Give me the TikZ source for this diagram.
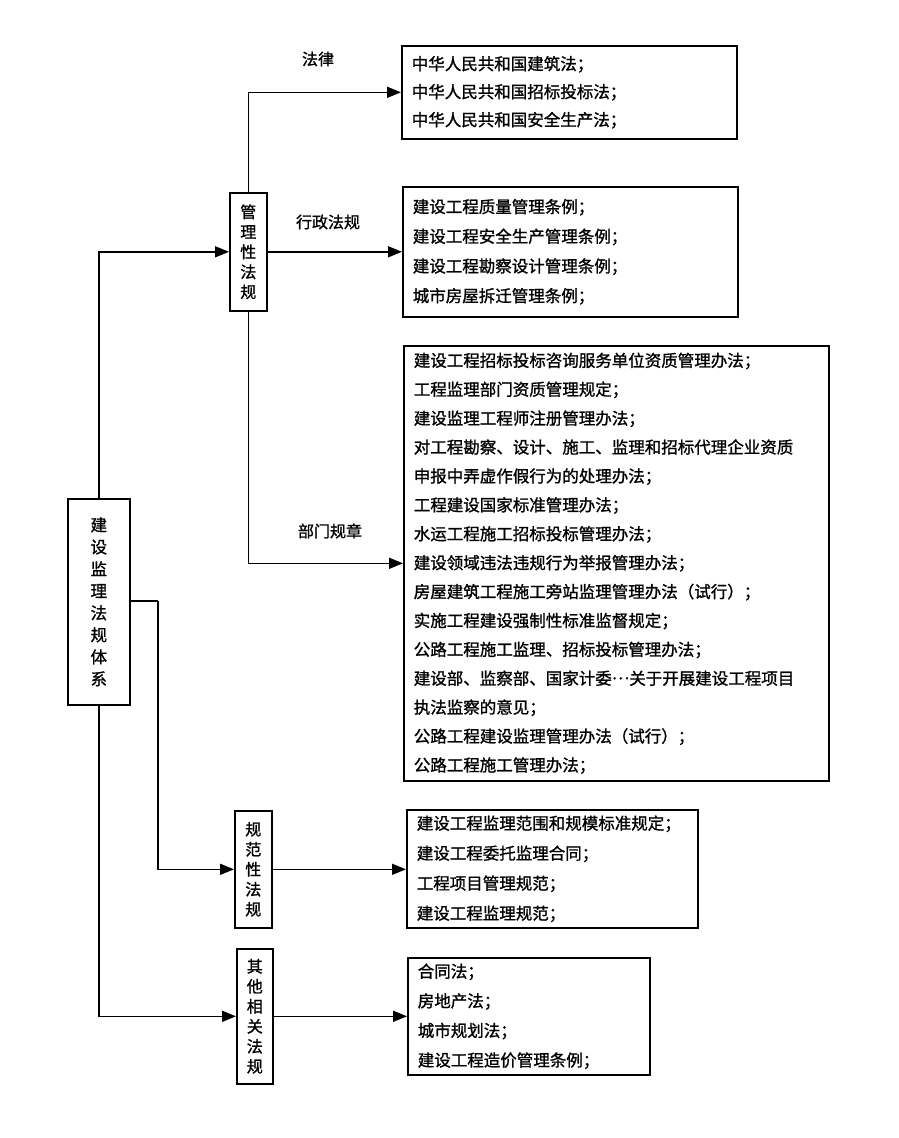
\documentclass[tikz,border=0pt]{standalone}
\usepackage{fontspec}
\setmainfont{Noto Sans CJK SC}[FakeBold=1.2]
\usetikzlibrary{arrows.meta}
\begin{document}
\begin{tikzpicture}[x=1pt,y=-1pt,
  lbox/.style={draw, line width=1.6pt, anchor=north west, align=left, inner xsep=10pt, inner ysep=0pt},
  vbox/.style={draw, line width=1.6pt, anchor=north west, align=center, inner sep=0pt, font=\fontsize{16}{20}\selectfont},
  conn/.style={line width=1.6pt, -{Triangle[length=14pt,width=11pt]}},
  plainline/.style={line width=1.6pt},
  lab/.style={font=\fontsize{16}{20}\selectfont, inner sep=0pt}]
\useasboundingbox (0,0) rectangle (898,1138);
% left vertical boxes
\node[vbox, minimum width=62pt, minimum height=206pt, font=\fontsize{16.5}{22}\selectfont] (jz) at (67,498) {建\\设\\监\\理\\法\\规\\体\\系};
\node[vbox, minimum width=37pt, minimum height=118pt] (gl) at (229,192) {管\\理\\性\\法\\规};
\node[vbox, minimum width=37pt, minimum height=117pt] (gf) at (234,810) {规\\范\\性\\法\\规};
\node[vbox, minimum width=36pt, minimum height=135pt] (qt) at (236,948) {其\\他\\相\\关\\法\\规};
% right text boxes
\node[lbox, text width=315pt, minimum height=93pt, font=\fontsize{16.5}{28}\selectfont] (b1) at (401,45)
  {中华人民共和国建筑法；\\中华人民共和国招标投标法；\\中华人民共和国安全生产法；};
\node[lbox, text width=315pt, minimum height=130pt, font=\fontsize{16.5}{29.7}\selectfont] (b2) at (402,186)
  {建设工程质量管理条例；\\建设工程安全生产管理条例；\\建设工程勘察设计管理条例；\\城市房屋拆迁管理条例；};
\node[lbox, text width=405pt, minimum height=435pt, font=\fontsize{16.5}{28.9}\selectfont] (b3) at (403,345)
  {建设工程招标投标咨询服务单位资质管理办法；\\
   工程监理部门资质管理规定；\\
   建设监理工程师注册管理办法；\\
   对工程勘察、设计、施工、监理和招标代理企业资质\\
   申报中弄虚作假行为的处理办法；\\
   工程建设国家标准管理办法；\\
   水运工程施工招标投标管理办法；\\
   建设领域违法违规行为举报管理办法；\\
   房屋建筑工程施工旁站监理管理办法（试行）；\\
   实施工程建设强制性标准监督规定；\\
   公路工程施工监理、招标投标管理办法；\\
   建设部、监察部、国家计委\raisebox{0.32em}{…}关于开展建设工程项目\\
   执法监察的意见；\\
   公路工程建设监理管理办法（试行）；\\
   公路工程施工管理办法；};
\node[lbox, text width=271pt, minimum height=118pt, font=\fontsize{16.5}{30}\selectfont] (b4) at (406,809)
  {建设工程监理范围和规模标准规定；\\建设工程委托监理合同；\\工程项目管理规范；\\建设工程监理规范；};
\node[lbox, text width=222pt, minimum height=117pt, font=\fontsize{16.5}{29.6}\selectfont] (b5) at (407,957)
  {合同法；\\房地产法；\\城市规划法；\\建设工程造价管理条例；};
% labels
\node[lab] (la) at (318,59) {法律};
\node[lab] (lb) at (328,222) {行政法规};
\node[lab] (lc) at (330,531) {部门规章};
% connectors
\coordinate (k1) at (158,601);
\draw[conn] (jz.north) |- (gl.west);
\draw[conn] (gl.north) |- (b1.west);
\draw[conn] (gl.east) -- (gl.east -| b2.west);
\draw[conn] (gl.south) |- (b3.west);
\draw[plainline] (jz.east |- k1) -- (k1);
\draw[conn] (k1) |- (gf.west);
\draw[conn] (gf.east) -- (gf.east -| b4.west);
\draw[conn] (jz.south) |- (qt.west);
\draw[conn] (qt.east) -- (qt.east -| b5.west);
\end{tikzpicture}
\end{document}
